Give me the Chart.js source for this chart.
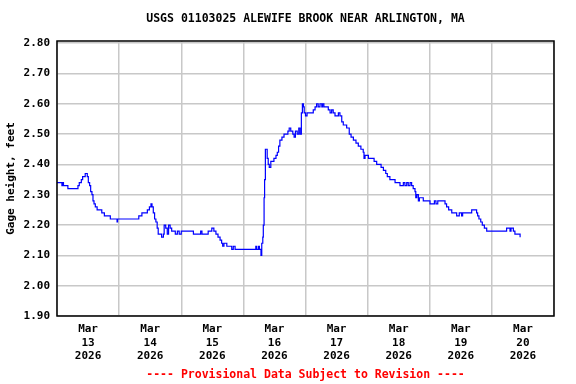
<!DOCTYPE html>
<html lang="en">
<head>
<meta charset="UTF-8">
<title>USGS 01103025 Alewife Brook</title>
<script src="https://cdn.jsdelivr.net/npm/chart.js@4.4.1/dist/chart.umd.min.js"></script>
<style>
  html, body { margin: 0; padding: 0; background: #fff; }
</style>
</head>
<body>
<canvas id="gage" width="576" height="384"></canvas>
<script>
// hours since Mar 13 2026 00:00
const hours = [
  0, 1.5, 1.9, 2.2, 2.5, 3.9, 4.2, 7.7, 8.1, 8.6,
  9.4, 9.9, 10.9, 11.3, 11.7, 12.1, 12.6, 13.0, 13.5, 13.9,
  14.3, 14.8, 15.5, 16.3, 17.3, 18.3, 20.6, 23.0, 23.2, 23.4,
  30.9, 31.6, 32.8, 34.4, 34.9, 35.7, 36.3, 36.7, 37.2, 37.7,
  38.2, 38.7, 39.1, 39.8, 40.4, 41.1, 41.4, 42.0, 42.6, 43.1,
  43.7, 44.3, 45.7, 46.5, 47.2, 48.0, 52.0, 52.7, 55.0, 55.5,
  56.0, 57.8, 58.4, 59.8, 60.6, 61.4, 62.2, 63.0, 63.6, 64.0,
  64.5, 65.6, 67.5, 68.1, 68.8, 76.5, 76.8, 77.1, 77.8, 78.2,
  78.8, 79.1, 79.5, 79.7, 80.0, 80.2, 80.5, 80.9, 81.2, 81.6,
  82.0, 82.6, 83.3, 83.8, 84.6, 85.1, 85.6, 86.1, 86.9, 87.7,
  88.5, 89.2, 89.7, 90.3, 91.1, 91.6, 92.1, 92.8, 93.4, 93.9,
  94.4, 94.8, 95.2, 95.5, 96.0, 96.6, 98.4, 99.0, 99.7, 100.3,
  100.9, 101.6, 102.3, 102.6, 103.1, 104.2, 104.8, 105.5, 106.1, 106.7,
  107.4, 108.0, 108.7, 109.3, 110.0, 110.6, 111.3, 111.9, 112.9, 113.6,
  114.5, 115.5, 116.4, 117.4, 118.3, 118.6, 119.0, 119.6, 120.3, 121.6,
  122.5, 123.5, 124.0, 125.2, 126.1, 127.0, 127.6, 128.6, 129.9, 130.6,
  132.5, 133.3, 133.8, 134.4, 135.1, 135.7, 136.4, 137.0, 137.6, 138.3,
  138.6, 139.0, 139.6, 140.0, 140.9, 141.5, 143.4, 144.1, 145.4, 145.8,
  146.4, 147.1, 149.2, 149.9, 150.5, 151.3, 152.5, 154.1, 154.4, 155.4,
  156.3, 156.7, 159.5, 160.2, 161.5, 162.1, 162.5, 163.0, 163.7, 164.3,
  165.1, 166.0, 173.1, 173.7, 174.7, 175.0, 175.4, 176.3, 176.9, 178.2,
  178.9
];

// gage height, feet
const gageHeight = [
  2.34, 2.34, 2.33, 2.34, 2.33, 2.33, 2.32, 2.32, 2.33, 2.34,
  2.35, 2.36, 2.37, 2.37, 2.36, 2.34, 2.33, 2.31, 2.30, 2.28,
  2.27, 2.26, 2.25, 2.25, 2.24, 2.23, 2.22, 2.22, 2.21, 2.22,
  2.22, 2.23, 2.24, 2.24, 2.25, 2.26, 2.27, 2.26, 2.24, 2.22,
  2.21, 2.19, 2.17, 2.17, 2.16, 2.17, 2.20, 2.19, 2.17, 2.20,
  2.19, 2.18, 2.17, 2.18, 2.17, 2.18, 2.18, 2.17, 2.17, 2.18,
  2.17, 2.17, 2.18, 2.19, 2.18, 2.17, 2.16, 2.15, 2.14, 2.13,
  2.14, 2.13, 2.12, 2.13, 2.12, 2.12, 2.13, 2.12, 2.13, 2.12,
  2.10, 2.14, 2.16, 2.20, 2.29, 2.35, 2.45, 2.45, 2.42, 2.40,
  2.39, 2.41, 2.41, 2.42, 2.43, 2.44, 2.46, 2.48, 2.49, 2.50,
  2.50, 2.51, 2.52, 2.51, 2.50, 2.49, 2.51, 2.50, 2.52, 2.50,
  2.57, 2.60, 2.59, 2.57, 2.56, 2.57, 2.57, 2.58, 2.59, 2.60,
  2.59, 2.60, 2.59, 2.60, 2.59, 2.59, 2.58, 2.57, 2.58, 2.57,
  2.56, 2.56, 2.57, 2.56, 2.54, 2.53, 2.53, 2.52, 2.50, 2.49,
  2.48, 2.47, 2.46, 2.45, 2.44, 2.42, 2.43, 2.43, 2.42, 2.42,
  2.41, 2.40, 2.40, 2.39, 2.38, 2.37, 2.36, 2.35, 2.35, 2.34,
  2.33, 2.33, 2.34, 2.33, 2.34, 2.33, 2.34, 2.33, 2.32, 2.31,
  2.29, 2.30, 2.28, 2.29, 2.29, 2.28, 2.28, 2.27, 2.27, 2.28,
  2.27, 2.28, 2.28, 2.27, 2.26, 2.25, 2.24, 2.24, 2.23, 2.24,
  2.23, 2.24, 2.24, 2.25, 2.25, 2.24, 2.23, 2.22, 2.21, 2.20,
  2.19, 2.18, 2.18, 2.19, 2.19, 2.18, 2.19, 2.18, 2.17, 2.17,
  2.16
];

const dayLabels = ['13', '14', '15', '16', '17', '18', '19', '20'];
const yTicks = [1.90, 2.00, 2.10, 2.20, 2.30, 2.40, 2.50, 2.60, 2.70, 2.80];

const titleText = 'USGS 01103025 ALEWIFE BROOK NEAR ARLINGTON, MA';
const footerText = '---- Provisional Data Subject to Revision ----';

const FONT = '"DejaVu Sans Mono", monospace';

const points = hours.map((h, i) => ({ x: h, y: gageHeight[i] }));

// black frame round the plot area, title and footer centred over the plot
const frame = {
  id: 'frame',
  afterDraw(chart) {
    const a = chart.chartArea, ctx = chart.ctx;
    const mid = (a.left + a.right) / 2;
    ctx.save();
    ctx.strokeStyle = '#000';
    ctx.lineWidth = 1.5;
    ctx.strokeRect(a.left, a.top, a.right - a.left, a.bottom - a.top);

    ctx.font = 'bold 11.5px ' + FONT;
    ctx.textAlign = 'center';
    ctx.textBaseline = 'middle';
    ctx.fillStyle = '#000';
    ctx.fillText(titleText, mid, 19);
    ctx.fillStyle = '#ff0000';
    ctx.fillText(footerText, mid, 375);
    ctx.restore();
  }
};

new Chart(document.getElementById('gage'), {
  type: 'line',
  data: {
    datasets: [{
      data: points,
      borderColor: '#0000ff',
      borderWidth: 1.2,
      pointRadius: 0,
      stepped: true,
      fill: false
    }]
  },
  options: {
    responsive: false,
    animation: false,
    layout: { padding: { left: 0, right: 22, top: 41, bottom: 20.2 } },
    plugins: {
      legend: { display: false },
      tooltip: { enabled: false },
      title: { display: false }
    },
    scales: {
      x: {
        type: 'linear',
        min: 0,
        max: 192,
        afterBuildTicks(scale) {
          const t = [];
          for (let v = 0; v <= 192; v += 12) t.push({ value: v });
          scale.ticks = t;
        },
        afterFit(scale) { scale.height = 47.8; },
        grid: {
          drawTicks: false,
          color: c => (c.tick && c.tick.value % 24 === 0) ? '#c8c8c8' : 'rgba(0,0,0,0)',
          lineWidth: 1.5
        },
        border: { display: false },
        ticks: {
          autoSkip: false,
          maxRotation: 0,
          padding: 7,
          color: '#000',
          font: { family: FONT, size: 11, weight: 'bold' },
          callback: v => (v % 24 === 12) ? ['Mar', dayLabels[Math.floor(v / 24)], '2026'] : ''
        }
      },
      y: {
        min: 1.9,
        max: 2.807,
        afterBuildTicks(scale) {
          scale.ticks = yTicks.map(v => ({ value: v }));
        },
        afterFit(scale) { scale.width = 57; },
        grid: { drawTicks: false, color: '#c8c8c8', lineWidth: 1.5 },
        border: { display: false },
        ticks: {
          padding: 7,
          color: '#000',
          font: { family: FONT, size: 11, weight: 'bold' },
          callback: v => v.toFixed(2)
        },
        title: {
          display: true,
          text: 'Gage height, feet',
          color: '#000',
          font: { family: FONT, size: 11, weight: 'bold' },
          padding: { top: 5, bottom: 0 }
        }
      }
    }
  },
  plugins: [frame]
});
</script>
</body>
</html>
